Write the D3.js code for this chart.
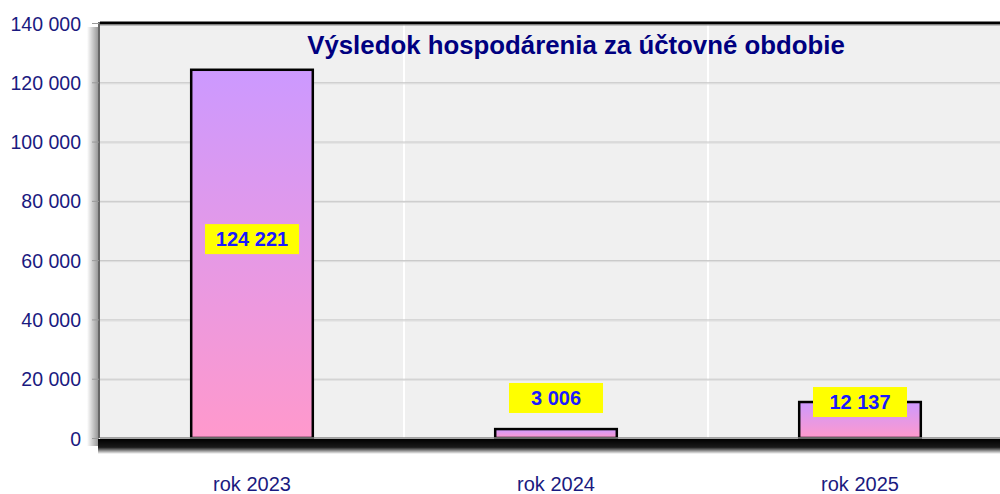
<!DOCTYPE html>
<html><head><meta charset="utf-8">
<script src="https://cdn.jsdelivr.net/npm/d3@7"></script>
<style>body{margin:0;background:#fff}svg{display:block;font-family:Arial,"Liberation Sans",sans-serif}</style>
</head><body>
<svg id="c" width="1000" height="494"></svg>
<script>
const title = "Výsledok hospodárenia za účtovné obdobie";
const categories = ["rok 2023", "rok 2024", "rok 2025"];
const values = [124221, 3006, 12137];
const valueLabels = ["124 221", "3 006", "12 137"];
const labelAnchor = [67100, 13500, 12137];
const yTicks = [0, 20000, 40000, 60000, 80000, 100000, 120000, 140000];
const yTickLabels = ["0", "20 000", "40 000", "60 000", "80 000", "100 000", "120 000", "140 000"];

const svg = d3.select("#c");
const FONT = "Arial, 'Liberation Sans', sans-serif";
const L = 100, R = 1012, T = 23, B = 438;
const x = d3.scaleBand().domain(categories).range([L, R]).paddingInner(0.6).paddingOuter(0.3);
const y = d3.scaleLinear().domain([0, 140000]).range([B, T]);

const defs = svg.append("defs");
const bg = defs.append("linearGradient").attr("id","barG").attr("x1",0).attr("y1",0).attr("x2",0).attr("y2",1);
bg.append("stop").attr("offset","0%").attr("stop-color","#cc99ff");
bg.append("stop").attr("offset","100%").attr("stop-color","#ff99cc");
const sb = defs.append("linearGradient").attr("id","shB").attr("x1",0).attr("y1",0).attr("x2",0).attr("y2",1);
sb.append("stop").attr("offset","0%").attr("stop-color","#000").attr("stop-opacity",1);
sb.append("stop").attr("offset","55%").attr("stop-color","#000").attr("stop-opacity",0.9);
sb.append("stop").attr("offset","100%").attr("stop-color","#000").attr("stop-opacity",0);
const sl = defs.append("linearGradient").attr("id","shL").attr("x1",1).attr("y1",0).attr("x2",0).attr("y2",0);
sl.append("stop").attr("offset","0%").attr("stop-color","#000").attr("stop-opacity",0.4);
sl.append("stop").attr("offset","100%").attr("stop-color","#000").attr("stop-opacity",0);

// plot background
svg.append("rect").attr("x",L).attr("y",T).attr("width",R-L).attr("height",B-T).attr("fill","#f0f0f0");

// vertical grid lines (white) between categories
svg.append("g").selectAll("line").data(categories.slice(1)).join("line")
  .attr("x1", d => x(d) - x.step()*x.paddingInner()/2 ).attr("x2", d => x(d) - x.step()*x.paddingInner()/2)
  .attr("y1",T).attr("y2",B).attr("stroke","#ffffff").attr("stroke-width",2);

// horizontal grid
svg.append("g").selectAll("line").data(yTicks.slice(1,-1)).join("line")
  .attr("x1",L).attr("x2",R).attr("y1",d=>y(d)+0.5).attr("y2",d=>y(d)+0.5)
  .attr("stroke","#c4c4c4").attr("stroke-width",1);
svg.append("g").selectAll("line").data(yTicks.slice(1,-1)).join("line")
  .attr("x1",L).attr("x2",R).attr("y1",d=>y(d)+1.5).attr("y2",d=>y(d)+1.5)
  .attr("stroke","#dcdcdc").attr("stroke-width",1);

// left shadow
svg.append("rect").attr("x",L-13).attr("y",T+4).attr("width",11).attr("height",B-T+4).attr("fill","url(#shL)");

// bars
svg.append("g").selectAll("rect").data(values).join("rect")
  .attr("x",(d,i)=>x(categories[i])).attr("width",x.bandwidth())
  .attr("y",d=>y(d)).attr("height",d=>B-y(d))
  .attr("fill","url(#barG)").attr("stroke","#000").attr("stroke-width",2.5);

// bottom shadow band
svg.append("rect").attr("x",L-2).attr("y",B+1).attr("width",R-L+8).attr("height",15).attr("fill","url(#shB)");

// axes lines
svg.append("line").attr("x1",L).attr("x2",R).attr("y1",T).attr("y2",T).attr("stroke","#000").attr("stroke-width",3);
svg.append("line").attr("x1",L).attr("x2",R).attr("y1",T+2).attr("y2",T+2).attr("stroke","#888").attr("stroke-width",1);
svg.append("line").attr("x1",L-1).attr("x2",L-1).attr("y1",T-1).attr("y2",B).attr("stroke","#666").attr("stroke-width",2);
svg.append("line").attr("x1",L).attr("x2",R).attr("y1",B).attr("y2",B).attr("stroke","#888").attr("stroke-width",1.5);

// y axis
const yAxis = d3.axisLeft(y).tickValues(yTicks).tickFormat((d,i)=>yTickLabels[i]).tickSize(7).tickPadding(11);
const ga = svg.append("g").attr("transform",`translate(${L-1},0)`).call(yAxis);
ga.select(".domain").remove();
ga.selectAll(".tick line").attr("stroke","#999");
ga.selectAll(".tick text").attr("fill","#1a1a80").attr("font-size",19.5).attr("font-family",FONT).attr("dy","0.36em");

// x axis labels
const xAxis = d3.axisBottom(x).tickSize(0).tickPadding(0);
const gx = svg.append("g").attr("transform",`translate(0,${B+39})`).call(xAxis);
gx.select(".domain").remove();
gx.selectAll(".tick text").attr("fill","#1a1a80").attr("font-size",20).attr("font-family",FONT).attr("dy","0.71em");

// value labels
const lg = svg.append("g").selectAll("g").data(values).join("g")
  .attr("transform",(d,i)=>`translate(${x(categories[i])+x.bandwidth()/2},${y(labelAnchor[i])})`);
lg.append("text").text((d,i)=>valueLabels[i]).attr("text-anchor","middle").attr("dy","0.36em")
  .attr("font-size",20).attr("font-weight","bold").attr("fill","#1a1aff").attr("font-family",FONT);
lg.each(function(){
  const g = d3.select(this); const t = g.select("text").node().getBBox();
  const w = Math.max(t.width + 18, 94);
  g.insert("rect","text").attr("x",-w/2).attr("y",-15).attr("width",w).attr("height",30).attr("fill","#ffff00");
});

// title
svg.append("text").attr("x",576).attr("y",54).attr("text-anchor","middle").attr("font-family",FONT)
  .attr("font-size",25.8).attr("font-weight","bold").attr("fill","#000080").text(title);
</script>
</body></html>
